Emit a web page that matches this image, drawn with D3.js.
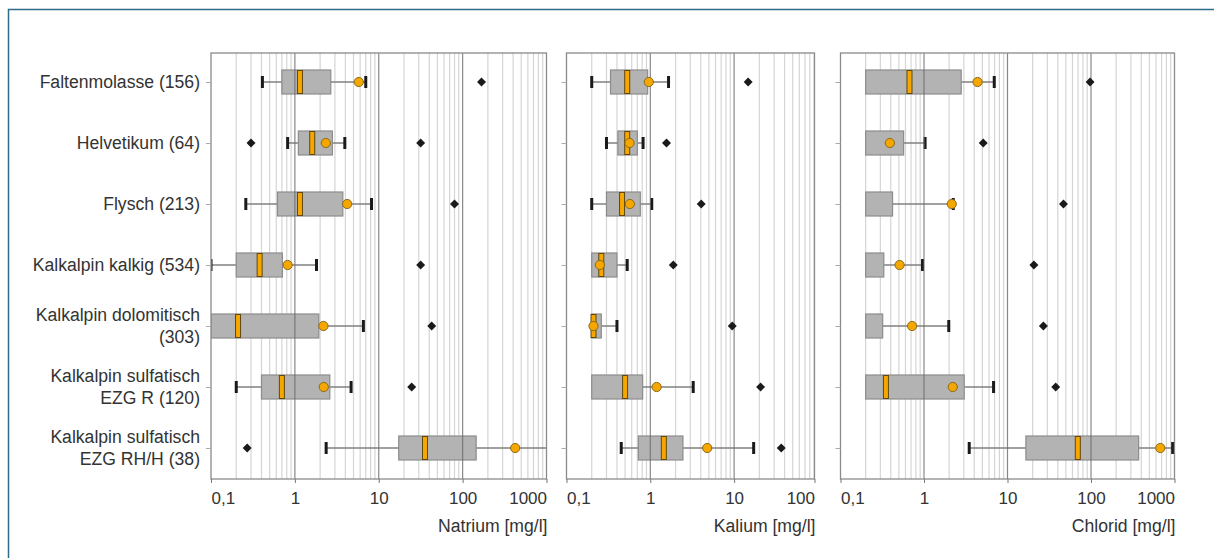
<!DOCTYPE html>
<html lang="de">
<head>
    <meta charset="UTF-8">
    <title>Boxplots Natrium Kalium Chlorid</title>
    <script src="https://cdn.jsdelivr.net/npm/d3@7/dist/d3.min.js"></script>
    <style>
        body {
            margin: 0;
            background: #fff;
        }
        svg text {
            font-family: "Liberation Sans", Arial, sans-serif;
            fill: #333;
        }
    </style>
</head>
<body>
<svg width="1214" height="558"></svg>
<script>

    // categories (one entry per line of the label)
    var categories = [
        ['Faltenmolasse (156)'],
        ['Helvetikum (64)'],
        ['Flysch (213)'],
        ['Kalkalpin kalkig (534)'],
        ['Kalkalpin dolomitisch', '(303)'],
        ['Kalkalpin sulfatisch', 'EZG R (120)'],
        ['Kalkalpin sulfatisch', 'EZG RH/H (38)']
    ];

    // Natrium [mg/l]
    var natriumLow  = [0.41, 0.82, 0.26, 0.10, null, 0.20, 2.36];
    var natriumQ1   = [0.70, 1.10, 0.62, 0.20, 0.10, 0.40, 17.3];
    var natriumMed  = [1.15, 1.61, 1.15, 0.38, 0.21, 0.70, 35.6];
    var natriumQ3   = [2.68, 2.80, 3.73, 0.71, 1.93, 2.61, 145];
    var natriumHigh = [7.0, 3.94, 8.2, 1.81, 6.56, 4.68, 1200];
    var natriumMean = [5.78, 2.34, 4.2, 0.82, 2.19, 2.21, 423];
    var natriumOut  = [[168], [0.30, 31.6], [80], [31.6], [42.8], [24.7], [0.27]];

    // Kalium [mg/l]
    var kaliumLow  = [0.20, 0.30, 0.20, null, null, null, 0.45];
    var kaliumQ1   = [0.335, 0.41, 0.30, 0.20, 0.20, 0.20, 0.72];
    var kaliumMed  = [0.53, 0.53, 0.46, 0.26, 0.21, 0.50, 1.45];
    var kaliumQ3   = [0.93, 0.70, 0.76, 0.40, 0.26, 0.81, 2.45];
    var kaliumHigh = [1.65, 0.82, 1.04, 0.53, 0.40, 3.25, 17.1];
    var kaliumMean = [0.96, 0.565, 0.57, 0.25, 0.21, 1.19, 4.77];
    var kaliumOut  = [[14.7], [1.56], [4.05], [1.88], [9.5], [20.7], [36.5]];

    // Chlorid [mg/l]
    var chloridLow  = [null, null, null, null, null, null, 3.48];
    var chloridQ1   = [0.20, 0.20, 0.20, 0.20, 0.20, 0.20, 16.6];
    var chloridMed  = [0.67, null, null, null, null, 0.35, 69.5];
    var chloridQ3   = [2.79, 0.57, 0.42, 0.33, 0.32, 3.03, 372];
    var chloridHigh = [6.94, 1.03, 2.24, 0.96, 1.98, 6.81, 951];
    var chloridMean = [4.38, 0.39, 2.15, 0.51, 0.72, 2.21, 676];
    var chloridOut  = [[97.5], [5.12], [46.8], [20.7], [26.9], [37.8], []];

    // axis ticks
    var tickValues = [0.1, 1, 10, 100, 1000];
    var tickLabels = ['0,1', '1', '10', '100', '1000'];

    function series(low, q1, med, q3, high, mean, out) {
        return low.map(function(d, i) {
            return {i: i, low: d, q1: q1[i], med: med[i], q3: q3[i], high: high[i], mean: mean[i], out: out[i]};
        });
    }

    var panels = [
        {title: 'Natrium [mg/l]', x0: 211, x1: 546.5, max: 1000, ticks: 5,
         rows: series(natriumLow, natriumQ1, natriumMed, natriumQ3, natriumHigh, natriumMean, natriumOut)},
        {title: 'Kalium [mg/l]', x0: 566.5, x1: 814.5, max: 91, ticks: 4,
         rows: series(kaliumLow, kaliumQ1, kaliumMed, kaliumQ3, kaliumHigh, kaliumMean, kaliumOut)},
        {title: 'Chlorid [mg/l]', x0: 840.5, x1: 1174.5, max: 1000, ticks: 5,
         rows: series(chloridLow, chloridQ1, chloridMed, chloridQ3, chloridHigh, chloridMean, chloridOut)}
    ];

    var svg = d3.select('svg'),
        plotTop = 53,
        plotBottom = 479,
        boxH = 24,
        orange = '#f5a700';

    var yScale = d3.scalePoint().domain(d3.range(categories.length)).range([82, 448]);

    // page frame
    svg.append('path')
        .attr('d', 'M8.5,558 L8.5,9.5 L1214,9.5')
        .attr('fill', 'none')
        .attr('stroke', '#2f6c88')
        .attr('stroke-width', 1.5);

    // category labels
    var labels = svg.append('g').attr('font-size', '17.6px').attr('text-anchor', 'end');
    categories.forEach(function(lines, i) {
        var t = labels.append('text')
            .attr('x', 200)
            .attr('y', yScale(i) + 6 - (lines.length - 1) * 11);
        lines.forEach(function(line, k) {
            t.append('tspan')
                .attr('x', 200)
                .attr('dy', k === 0 ? 0 : 22)
                .text(line);
        });
    });

    panels.forEach(function(p, pi) {
        var x = d3.scaleLog().domain([0.1, p.max]).range([p.x0, p.x1]);
        var xAxisScale = x.copy().clamp(true);
        var g = svg.append('g');

        g.append('clipPath').attr('id', 'clip' + pi)
            .append('rect')
            .attr('x', p.x0).attr('y', plotTop)
            .attr('width', p.x1 - p.x0).attr('height', plotBottom - plotTop);

        // minor grid
        var minor = [], major = [];
        for (var dec = 0.1; dec < p.max; dec *= 10) {
            for (var k = 2; k <= 9; k++) {
                if (k * dec < p.max) minor.push(k * dec);
            }
            if (dec > 0.1) major.push(dec);
        }

        g.selectAll('.minor').data(minor).enter().append('line')
            .attr('x1', function(d) { return x(d); })
            .attr('x2', function(d) { return x(d); })
            .attr('y1', plotTop).attr('y2', plotBottom)
            .attr('stroke', '#d5d5d5')
            .attr('stroke-width', 1.2);

        var plot = g.append('g').attr('clip-path', 'url(#clip' + pi + ')');

        var row = plot.selectAll('.row').data(p.rows).enter().append('g')
            .attr('transform', function(d) { return 'translate(0,' + yScale(d.i) + ')'; });

        // whiskers
        row.filter(function(d) { return d.low != null; }).append('line')
            .attr('x1', function(d) { return x(d.low); })
            .attr('x2', function(d) { return x(d.q1); })
            .attr('stroke', '#808080').attr('stroke-width', 1.5);
        row.append('line')
            .attr('x1', function(d) { return x(d.q3); })
            .attr('x2', function(d) { return x(d.high); })
            .attr('stroke', '#808080').attr('stroke-width', 1.5);

        // box
        row.append('rect')
            .attr('x', function(d) { return x(d.q1); })
            .attr('width', function(d) { return x(d.q3) - x(d.q1); })
            .attr('y', -boxH / 2)
            .attr('height', boxH)
            .attr('fill', '#b3b3b3')
            .attr('stroke', '#8c8c8c')
            .attr('stroke-width', 1.2);

        // whisker caps
        row.filter(function(d) { return d.low != null; }).append('line')
            .attr('x1', function(d) { return x(d.low); })
            .attr('x2', function(d) { return x(d.low); })
            .attr('y1', -6).attr('y2', 6)
            .attr('stroke', '#1a1a1a').attr('stroke-width', 3);
        row.append('line')
            .attr('x1', function(d) { return x(d.high); })
            .attr('x2', function(d) { return x(d.high); })
            .attr('y1', -6).attr('y2', 6)
            .attr('stroke', '#1a1a1a').attr('stroke-width', 3);

        // decade lines
        g.selectAll('.major').data(major).enter().append('line')
            .attr('x1', function(d) { return x(d); })
            .attr('x2', function(d) { return x(d); })
            .attr('y1', plotTop).attr('y2', plotBottom)
            .attr('stroke', '#6a6a6a')
            .attr('stroke-opacity', 0.8)
            .attr('stroke-width', 1.2);

        var marks = g.append('g').attr('clip-path', 'url(#clip' + pi + ')');
        var mrow = marks.selectAll('.mrow').data(p.rows).enter().append('g')
            .attr('transform', function(d) { return 'translate(0,' + yScale(d.i) + ')'; });

        // median
        mrow.filter(function(d) { return d.med != null; }).append('rect')
            .attr('x', function(d) { return x(d.med) - 2.5; })
            .attr('width', 5)
            .attr('y', -boxH / 2 + 0.5)
            .attr('height', boxH - 1)
            .attr('fill', orange)
            .attr('stroke', '#5e4810')
            .attr('stroke-width', 1);

        // mean
        mrow.append('circle')
            .attr('cx', function(d) { return x(d.mean); })
            .attr('r', 4.6)
            .attr('fill', orange)
            .attr('stroke', '#8a6a18')
            .attr('stroke-width', 1);

        // outliers
        mrow.selectAll('.out').data(function(d) { return d.out; }).enter().append('path')
            .attr('d', d3.symbol().type(d3.symbolSquare).size(40))
            .attr('transform', function(d) { return 'translate(' + x(d) + ',0) rotate(45)'; })
            .attr('fill', '#1a1a1a');

        // frame
        g.append('rect')
            .attr('x', p.x0).attr('y', plotTop)
            .attr('width', p.x1 - p.x0).attr('height', plotBottom - plotTop)
            .attr('fill', 'none')
            .attr('stroke', '#8a8a8a')
            .attr('stroke-width', 1.3);

        // left ticks
        var yAxis = g.append('g')
            .attr('transform', 'translate(' + p.x0 + ',0)')
            .call(d3.axisLeft(yScale).tickSize(5).tickFormat(''));
        yAxis.select('.domain').remove();
        yAxis.selectAll('.tick line').attr('stroke', '#aaa');

        // bottom axis
        var xAxis = g.append('g')
            .attr('transform', 'translate(0,' + plotBottom + ')')
            .call(d3.axisBottom(xAxisScale)
                .tickValues(tickValues.slice(0, p.ticks))
                .tickFormat(function(d, i) { return tickLabels[i]; })
                .tickSize(4)
                .tickPadding(9));
        xAxis.select('.domain').remove();
        xAxis.attr('font-family', null).attr('font-size', '17px');
        xAxis.selectAll('.tick line').attr('stroke', '#777');
        xAxis.selectAll('.tick text')
            .attr('fill', '#333')
            .attr('text-anchor', function(d, i, n) {
                return i === 0 ? 'start' : (i === n.length - 1 ? 'end' : 'middle');
            });

        g.append('text')
            .attr('x', p.x1 + 1)
            .attr('y', 531.5)
            .attr('text-anchor', 'end')
            .attr('font-size', '17.6px')
            .text(p.title);
    });

</script>
</body>
</html>
